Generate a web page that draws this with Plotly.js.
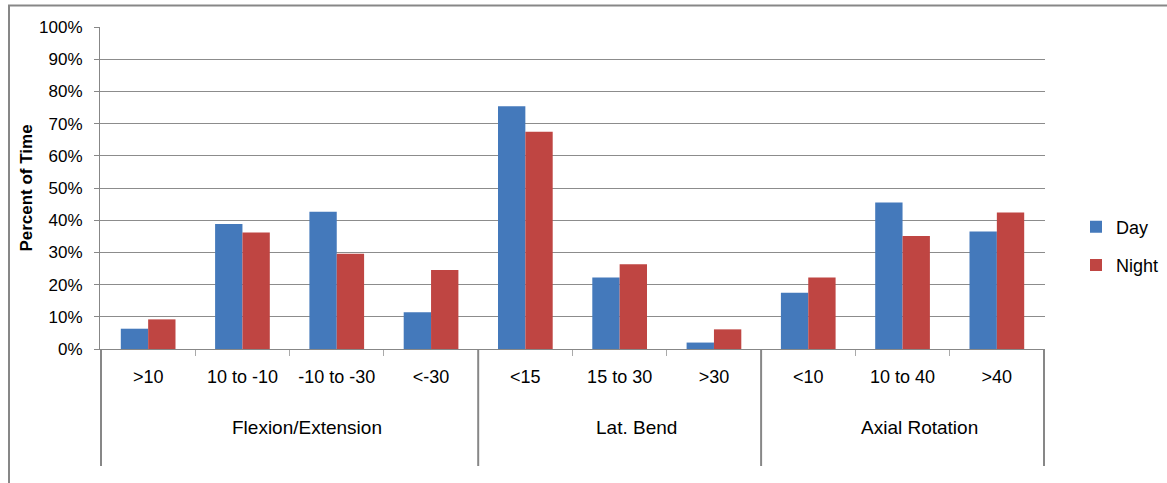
<!DOCTYPE html>
<html>
<head>
<meta charset="utf-8">
<script src="https://cdn.plot.ly/plotly-3.0.1.min.js"></script>
<style>html,body{margin:0;padding:0;background:#fff;}#chart{width:1167px;height:483px;}</style>
</head>
<body>
<div id="chart"></div>
<script>
// ---- data ----
const groups = ["Flexion/Extension", "Lat. Bend", "Axial Rotation"];
const groupSizes = [4, 3, 3];
const categories = [">10", "10 to -10", "-10 to -30", "<-30", "<15", "15 to 30", ">30", "<10", "10 to 40", ">40"];
const dayValues = [6.3, 38.8, 42.6, 11.4, 75.4, 22.2, 2.0, 17.5, 45.5, 36.5];
const nightValues = [9.2, 36.2, 29.6, 24.5, 67.5, 26.3, 6.1, 22.2, 35.1, 42.4];
const seriesNames = ["Day", "Night"];
const yTitle = "Percent of Time";

// ---- layout helpers ----
const W = 1167, H = 483;
const mL = 100, mR = 122, mT = 27, mB = 134;
const plotW = W - mL - mR, plotH = H - mT - mB;
const px2paperX = p => (p - mL) / plotW;
const px2paperY = p => (H - mB - p) / plotH;
const font = "'Liberation Sans', Arial, sans-serif";
const gray = "#878787";

const traces = [
  {type: "bar", name: seriesNames[0], x: categories, y: dayValues, marker: {color: "#4479BB"}, legendgroup: "a"},
  {type: "bar", name: seriesNames[1], x: categories, y: nightValues, marker: {color: "#BF4542"}, legendgroup: "b"}
];

const shapes = [];
const annotations = [];
let start = 0;
const boundaries = [-0.5];
groups.forEach((g, i) => {
  const end = start + groupSizes[i];
  boundaries.push(end - 0.5);
  annotations.push({
    text: g, xref: "x", yref: "paper", x: (start + end - 1) / 2, y: px2paperY(427),
    xshift: 17, showarrow: false, xanchor: "center", yanchor: "middle",
    font: {family: font, size: 19, color: "#000"}
  });
  start = end;
});
boundaries.forEach(b => {
  shapes.push({type: "line", xref: "x", yref: "paper", x0: b, x1: b, y0: 0, y1: px2paperY(466),
    line: {color: gray, width: 2}});
});
// outer chart frame (left and top edges visible)
shapes.push({type: "line", xref: "paper", yref: "paper", x0: px2paperX(9), x1: px2paperX(9), y0: px2paperY(490), y1: px2paperY(5.5),
  line: {color: gray, width: 2}});
shapes.push({type: "line", xref: "paper", yref: "paper", x0: px2paperX(8), x1: px2paperX(1175), y0: px2paperY(5.5), y1: px2paperY(5.5),
  line: {color: gray, width: 2}});

const layout = {
  width: W, height: H,
  margin: {l: mL, r: mR, t: mT, b: mB, pad: 0, autoexpand: false},
  paper_bgcolor: "#fff", plot_bgcolor: "#fff",
  barmode: "group", bargap: 0.42, bargroupgap: 0,
  font: {family: font, color: "#000"},
  showlegend: true,
  legend: {x: px2paperX(1076), y: px2paperY(246), xanchor: "left", yanchor: "middle",
    font: {family: font, size: 18, color: "#000"}, tracegroupgap: 12, traceorder: "grouped",
    bgcolor: "rgba(0,0,0,0)", itemwidth: 30},
  xaxis: {
    type: "category", categoryorder: "array", categoryarray: categories,
    showline: true, linecolor: gray, linewidth: 1,
    ticks: "outside", tickson: "boundaries", ticklen: 6, tickcolor: "#aaaaaa", tickwidth: 1,
    showgrid: false, ticklabelstandoff: 11,
    tickfont: {family: font, size: 18, color: "#000"}, fixedrange: true
  },
  yaxis: {
    range: [0, 100], dtick: 10, ticksuffix: "%",
    showline: true, linecolor: gray, linewidth: 1,
    ticks: "outside", ticklen: 5, tickcolor: gray,
    showgrid: true, gridcolor: "#8c8c8c", gridwidth: 1, zeroline: false,
    ticklabelstandoff: 8,
    tickfont: {family: font, size: 17, color: "#000"},
    title: {text: yTitle, font: {family: font, size: 17, color: "#000", weight: "bold"}, standoff: 2},
    fixedrange: true
  },
  shapes: shapes,
  annotations: annotations
};

Plotly.newPlot("chart", traces, layout, {displayModeBar: false, staticPlot: true});
</script>
</body>
</html>
